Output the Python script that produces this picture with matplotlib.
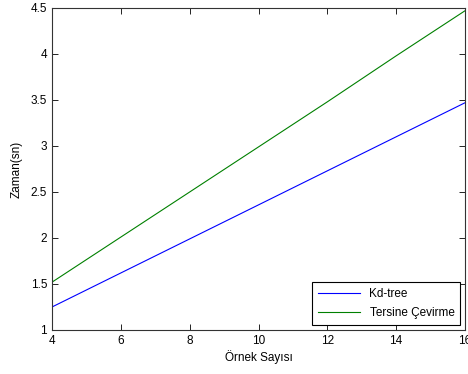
import matplotlib
matplotlib.use("Agg")
import matplotlib.pyplot as plt
plt.rcParams["font.family"] = ["Liberation Sans", "DejaVu Sans"]

# Veri
ornek = [4, 6, 8, 10, 12, 14, 16]
kd_tree = [1.25, 1.62, 1.99, 2.36, 2.73, 3.10, 3.47]
tersine = [1.52, 2.01, 2.50, 2.99, 3.48, 3.98, 4.47]
x_ticks = [4, 6, 8, 10, 12, 14, 16]
y_ticks = [1, 1.5, 2, 2.5, 3, 3.5, 4, 4.5]

fig = plt.figure(figsize=(4.68, 3.74), dpi=100)
ax = fig.add_axes([52 / 468, 1 - 330 / 374, (465 - 52) / 468, (330 - 8) / 374])

ax.plot(ornek, kd_tree, color="#0000ff", lw=0.8, label="Kd-tree")
ax.plot(ornek, tersine, color="#008000", lw=0.8, label="Tersine Çevirme")

ax.set_xlim(4, 16)
ax.set_ylim(1, 4.5)
ax.set_xticks(x_ticks)
ax.set_yticks(y_ticks)
ax.set_xticklabels([str(t) for t in x_ticks])
ax.set_yticklabels(["1", "1.5", "2", "2.5", "3", "3.5", "4", "4.5"])
ax.tick_params(direction="in", top=True, right=True, labelsize=8.5, length=4, width=0.6)
for s in ax.spines.values():
    s.set_linewidth(0.8)
    s.set_color("#333333")

ax.set_xlabel("Örnek Sayısı", fontsize=8.5, labelpad=2)
ax.set_ylabel("Zaman(sn)", fontsize=8.5, labelpad=6)

leg = ax.legend(loc="lower right", fontsize=8.5, fancybox=False, framealpha=1,
                edgecolor="black", borderaxespad=0.4, handlelength=3.6,
                labelspacing=0.6, borderpad=0.5)
leg.get_frame().set_linewidth(0.8)

fig.savefig("out.png", dpi=100)
